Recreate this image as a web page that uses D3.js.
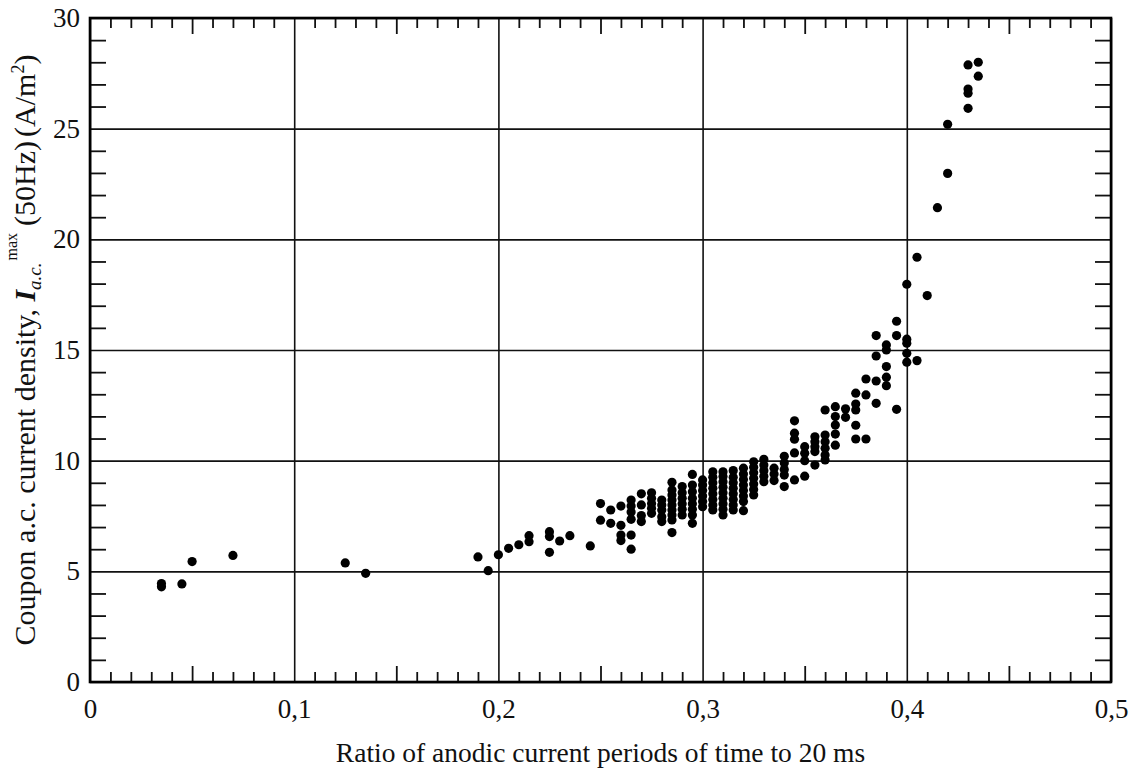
<!DOCTYPE html>
<html>
<head>
<meta charset="utf-8">
<script src="https://cdn.jsdelivr.net/npm/d3@7"></script>
<style>
  html, body { margin: 0; padding: 0; background: #fff; }
  svg { display: block; }
  text { font-family: "Liberation Serif", "Times New Roman", serif; fill: #111; }
</style>
</head>
<body>
<svg id="chart" width="1134" height="769"></svg>
<script>
// Measured points: ratio of anodic periods (x) and peak a.c. density in A/m² (y)
const ratio = [
  0.035, 0.035, 0.045, 0.05, 0.07, 0.125, 0.135,
  0.19, 0.195, 0.2, 0.205, 0.21, 0.215, 0.215,
  0.225, 0.225, 0.225, 0.23, 0.235, 0.245,
  0.25, 0.25, 0.255, 0.255,
  0.26, 0.26, 0.26, 0.26,
  0.265, 0.265, 0.265, 0.265, 0.265, 0.265,
  0.27, 0.27, 0.27, 0.27,
  0.275, 0.275, 0.275, 0.275, 0.275,
  0.28, 0.28, 0.28, 0.28, 0.28,
  0.285, 0.285, 0.285, 0.285, 0.285, 0.285, 0.285, 0.285, 0.285,
  0.29, 0.29, 0.29, 0.29, 0.29, 0.29,
  0.295, 0.295, 0.295, 0.295, 0.295, 0.295, 0.295, 0.295,
  0.30, 0.30, 0.30, 0.30, 0.30, 0.30,
  0.305, 0.305, 0.305, 0.305, 0.305, 0.305, 0.305, 0.305,
  0.31, 0.31, 0.31, 0.31, 0.31, 0.31, 0.31, 0.31, 0.31,
  0.315, 0.315, 0.315, 0.315, 0.315, 0.315, 0.315, 0.315,
  0.32, 0.32, 0.32, 0.32, 0.32, 0.32, 0.32, 0.32,
  0.325, 0.325, 0.325, 0.325, 0.325, 0.325, 0.325,
  0.33, 0.33, 0.33, 0.33, 0.33,
  0.335, 0.335, 0.335,
  0.34, 0.34, 0.34, 0.34, 0.34,
  0.345, 0.345, 0.345, 0.345, 0.345,
  0.35, 0.35, 0.35, 0.35,
  0.355, 0.355, 0.355, 0.355, 0.355,
  0.36, 0.36, 0.36, 0.36, 0.36, 0.36,
  0.365, 0.365, 0.365, 0.365, 0.365,
  0.37, 0.37,
  0.375, 0.375, 0.375, 0.375, 0.375,
  0.38, 0.38, 0.38,
  0.385, 0.385, 0.385, 0.385,
  0.39, 0.39, 0.39, 0.39, 0.39,
  0.395, 0.395, 0.395,
  0.40, 0.40, 0.40, 0.40, 0.40,
  0.405, 0.405, 0.41, 0.415, 0.42, 0.42,
  0.43, 0.43, 0.43, 0.43, 0.435, 0.435
];
const density = [
  4.30, 4.45, 4.43, 5.44, 5.72, 5.38, 4.91,
  5.65, 5.03, 5.75, 6.04, 6.20, 6.34, 6.61,
  5.86, 6.57, 6.79, 6.37, 6.61, 6.15,
  7.31, 8.06, 7.17, 7.77,
  6.39, 6.64, 7.08, 7.95,
  6.00, 6.64, 7.35, 7.68, 7.95, 8.22,
  7.25, 7.52, 8.00, 8.50,
  7.62, 7.85, 8.07, 8.30, 8.55,
  7.25, 7.47, 7.77, 8.00, 8.22,
  6.75, 7.32, 7.55, 7.77, 8.00, 8.22, 8.45, 8.68, 9.02,
  7.55, 7.80, 8.05, 8.30, 8.55, 8.83,
  7.17, 7.55, 7.80, 8.05, 8.30, 8.60, 8.90, 9.38,
  7.92, 8.15, 8.40, 8.65, 8.90, 9.13,
  7.77, 8.00, 8.25, 8.50, 8.75, 9.00, 9.25, 9.50,
  7.55, 7.80, 8.05, 8.30, 8.55, 8.80, 9.05, 9.28, 9.50,
  7.77, 8.00, 8.25, 8.50, 8.75, 9.00, 9.25, 9.55,
  7.74, 8.15, 8.40, 8.65, 8.90, 9.15, 9.40, 9.66,
  8.45, 8.70, 8.95, 9.20, 9.45, 9.70, 9.95,
  9.05, 9.30, 9.55, 9.80, 10.06,
  9.10, 9.40, 9.66,
  8.83, 9.35, 9.60, 9.90, 10.20,
  9.13, 10.35, 10.97, 11.24, 11.80,
  9.30, 10.00, 10.33, 10.63,
  9.80, 10.41, 10.63, 10.86, 11.08,
  10.03, 10.26, 10.56, 10.86, 11.16, 12.29,
  10.70, 11.20, 11.61, 11.99, 12.44,
  11.96, 12.34,
  10.98, 11.60, 12.29, 12.56, 13.05,
  10.98, 12.97, 13.69,
  12.59, 13.60, 14.73, 15.65,
  13.39, 13.77, 14.25, 15.00, 15.23,
  12.32, 15.65, 16.30,
  14.45, 14.85, 15.31, 15.49, 17.97,
  14.52, 19.19, 17.46, 21.43, 22.98, 25.20,
  25.92, 26.60, 26.79, 27.88, 27.37, 28.00
];

const xMajor = [0, 0.1, 0.2, 0.3, 0.4, 0.5];
const yMajor = [0, 5, 10, 15, 20, 25, 30];

const margin = { left: 90, top: 18, right: 23, bottom: 87 };
const W = 1134, H = 769;
const innerW = W - margin.left - margin.right;
const innerH = H - margin.top - margin.bottom;

const svg = d3.select("#chart");
const g = svg.append("g").attr("transform", `translate(${margin.left},${margin.top})`);

const x = d3.scaleLinear().domain([0, 0.5]).range([0, innerW]);
const y = d3.scaleLinear().domain([0, 30]).range([innerH, 0]);

const comma = d3.formatLocale({ decimal: ",", thousands: " ", grouping: [3], currency: ["", ""] });
const fmtX = v => v === 0 ? "0" : comma.format(".1f")(v);

const eps = 1e-9;
const xMinor = d3.range(0, 51).map(i => i / 100).filter(v => Math.abs(v * 20 - Math.round(v * 20)) > eps);
const xMid = [0.05, 0.15, 0.25, 0.35, 0.45];
const yMinor = d3.range(0, 31).filter(v => v % 5 !== 0);

function styleTicks(sel, w) {
  sel.select(".domain").remove();
  sel.selectAll(".tick line").attr("stroke", "#111").attr("stroke-width", w);
}

// gridlines at the major values
g.append("g").attr("transform", `translate(0,${innerH})`)
  .call(d3.axisBottom(x).tickValues(xMajor).tickSize(-innerH).tickFormat(""))
  .call(s => styleTicks(s, 1.6));
g.append("g")
  .call(d3.axisLeft(y).tickValues(yMajor).tickSize(-innerW).tickFormat(""))
  .call(s => styleTicks(s, 1.6));

// inward minor ticks on all four sides
g.append("g").attr("transform", `translate(0,${innerH})`)
  .call(d3.axisBottom(x).tickValues(xMinor).tickSize(-10).tickFormat(""))
  .call(s => styleTicks(s, 1.8));
g.append("g").attr("transform", `translate(0,${innerH})`)
  .call(d3.axisBottom(x).tickValues(xMid).tickSize(-16).tickFormat(""))
  .call(s => styleTicks(s, 1.8));
g.append("g")
  .call(d3.axisTop(x).tickValues(xMinor).tickSize(-10).tickFormat(""))
  .call(s => styleTicks(s, 1.8));
g.append("g")
  .call(d3.axisTop(x).tickValues(xMid).tickSize(-16).tickFormat(""))
  .call(s => styleTicks(s, 1.8));
g.append("g")
  .call(d3.axisLeft(y).tickValues(yMinor).tickSize(-16).tickFormat(""))
  .call(s => styleTicks(s, 1.8));
g.append("g").attr("transform", `translate(${innerW},0)`)
  .call(d3.axisRight(y).tickValues(yMinor).tickSize(-16).tickFormat(""))
  .call(s => styleTicks(s, 1.8));

// tick labels
const xLab = g.append("g").attr("transform", `translate(0,${innerH})`)
  .call(d3.axisBottom(x).tickValues(xMajor).tickSize(0).tickPadding(17).tickFormat(fmtX));
xLab.select(".domain").remove();
xLab.selectAll("text").attr("font-size", 27).attr("font-family", "Liberation Serif, serif").attr("fill", "#111");

const yLab = g.append("g")
  .call(d3.axisLeft(y).tickValues(yMajor).tickSize(0).tickPadding(10).tickFormat(d3.format("d")));
yLab.select(".domain").remove();
yLab.selectAll("text").attr("font-size", 27).attr("font-family", "Liberation Serif, serif").attr("fill", "#111");

// data points
g.append("g").selectAll("circle")
  .data(ratio.map((r, i) => [r, density[i]]))
  .join("circle")
  .attr("cx", d => x(d[0]))
  .attr("cy", d => y(d[1]))
  .attr("r", 4.6)
  .attr("fill", "#000");

// frame
g.append("rect")
  .attr("x", 0).attr("y", 0).attr("width", innerW).attr("height", innerH)
  .attr("fill", "none").attr("stroke", "#000").attr("stroke-width", 2.6);

// axis titles
svg.append("text")
  .attr("x", margin.left + innerW / 2)
  .attr("y", 762)
  .attr("text-anchor", "middle")
  .attr("font-size", 27.5)
  .text("Ratio of anodic current periods of time to 20 ms");

const yt = svg.append("text")
  .attr("transform", `translate(35,${margin.top + innerH / 2}) rotate(-90)`)
  .attr("text-anchor", "middle")
  .attr("font-size", 30);
yt.append("tspan").text("Coupon a.c. current density, ");
yt.append("tspan").attr("font-style", "italic").attr("font-weight", "bold").text("I");
yt.append("tspan").attr("font-style", "italic").attr("font-size", 19).attr("dy", 6).text("a.c.");
yt.append("tspan").attr("font-size", 16).attr("dy", -24).attr("dx", 2).text("max");
yt.append("tspan").attr("dy", 18).attr("dx", 7).text("(50Hz)");
yt.append("tspan").attr("dx", 4).text("(A/m");
yt.append("tspan").attr("font-size", 18).attr("dy", -11).text("2");
yt.append("tspan").attr("dy", 11).text(")");
</script>
</body>
</html>
